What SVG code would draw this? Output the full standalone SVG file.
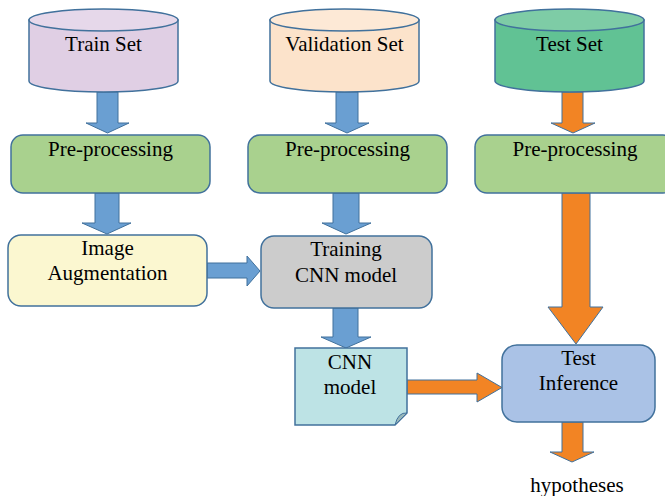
<svg xmlns="http://www.w3.org/2000/svg" width="665" height="496" viewBox="0 0 665 496" font-family="Liberation Serif, serif" font-size="21">
  <style>
    .lbl { fill: #000; text-anchor: middle; }
    .edge { stroke: #41719C; stroke-width: 1.5; }
    .blue { fill: #6A9FD2; stroke: #41719C; stroke-width: 1; }
    .orange { fill: #F28424; stroke: #41719C; stroke-width: 1; }
  </style>
  <rect width="665" height="496" fill="#ffffff"/>

  <!-- connectors -->
  <g id="connectors">
    <polygon class="blue" points="97,92 118,92 118,123 129,123 107.5,133 86,123 97,123"/>
    <polygon class="blue" points="336,92 358,92 358,123 369,123 347,133 325,123 336,123"/>
    <polygon class="orange" points="562,92 583,92 583,123 595,123 573,133 551,123 562,123"/>
    <polygon class="blue" points="95,193 119,193 119,223 131,223 107,234 82,223 95,223"/>
    <polygon class="blue" points="333,193 359,193 359,223 371,223 346,234 322,223 333,223"/>
    <polygon class="blue" points="207,263 247,263 247,256 260,271 247,286 247,278 207,278"/>
    <polygon class="blue" points="333,308 358,308 358,337 371,337 346,348 321,337 333,337"/>
    <polygon class="orange" points="407,380 477,380 477,373 502,387.5 477,402 477,394 407,394"/>
    <polygon class="orange" points="562,193 590,193 590,307 603,307 576,344 548,307 562,307"/>
    <polygon class="orange" points="562,422 583,422 583,452 594,452 572,462 550,452 562,452"/>
  </g>

  <!-- data stores -->
  <g id="train-set">
    <path class="edge" d="M29,20 L29,81 A74.5,11 0 0 0 178,81 L178,20 Z" fill="#E0CFE4"/>
    <ellipse class="edge" cx="103.5" cy="20" rx="74.5" ry="11" fill="#E6D8EA"/>
    <text class="lbl" x="103.5" y="51">Train Set</text>
  </g>
  <g id="validation-set">
    <path class="edge" d="M270,20 L270,81 A74.5,11 0 0 0 419,81 L419,20 Z" fill="#FCE3CB"/>
    <ellipse class="edge" cx="344.5" cy="20" rx="74.5" ry="11" fill="#FDE9D6"/>
    <text class="lbl" x="344.5" y="51">Validation Set</text>
  </g>
  <g id="test-set">
    <path class="edge" d="M495,20 L495,81 A74.5,11 0 0 0 644,81 L644,20 Z" fill="#61C294"/>
    <ellipse class="edge" cx="569.5" cy="20" rx="74.5" ry="11" fill="#7ECCA6"/>
    <text class="lbl" x="569.5" y="51">Test Set</text>
  </g>

  <!-- pre-processing -->
  <g id="train-preprocessing">
    <rect class="edge" x="11" y="135" width="199" height="58" rx="12" fill="#A9D18E"/>
    <text class="lbl" x="110.5" y="156">Pre-processing</text>
  </g>
  <g id="validation-preprocessing">
    <rect class="edge" x="248" y="135" width="199" height="58" rx="12" fill="#A9D18E"/>
    <text class="lbl" x="347.5" y="156">Pre-processing</text>
  </g>
  <g id="test-preprocessing">
    <rect class="edge" x="475" y="135" width="200" height="58" rx="12" fill="#A9D18E"/>
    <text class="lbl" x="575" y="156">Pre-processing</text>
  </g>

  <!-- processing stages -->
  <g id="image-augmentation">
    <rect class="edge" x="8" y="235" width="199" height="71" rx="13" fill="#FBF7D0"/>
    <text class="lbl" x="107.5" y="255">Image</text>
    <text class="lbl" x="107.5" y="280">Augmentation</text>
  </g>
  <g id="training-cnn">
    <rect class="edge" x="261" y="236" width="171" height="72" rx="13" fill="#CCCCCC"/>
    <text class="lbl" x="346" y="256">Training</text>
    <text class="lbl" x="346" y="282">CNN model</text>
  </g>
  <g id="cnn-model">
    <polygon class="edge" points="295,348 407,348 407,413 395,425 295,425" fill="#BDE3E5"/>
    <path d="M407,413 Q398,412 395,425 Z" fill="#98B7BA" stroke="#41719C" stroke-width="1"/>
    <text class="lbl" x="350" y="369">CNN</text>
    <text class="lbl" x="350" y="394">model</text>
  </g>
  <g id="test-inference">
    <rect class="edge" x="502" y="345" width="153" height="77" rx="15" fill="#AAC2E6"/>
    <text class="lbl" x="578.5" y="365">Test</text>
    <text class="lbl" x="578.5" y="390">Inference</text>
  </g>
  <g id="hypotheses">
    <text class="lbl" x="577" y="492">hypotheses</text>
  </g>
</svg>
